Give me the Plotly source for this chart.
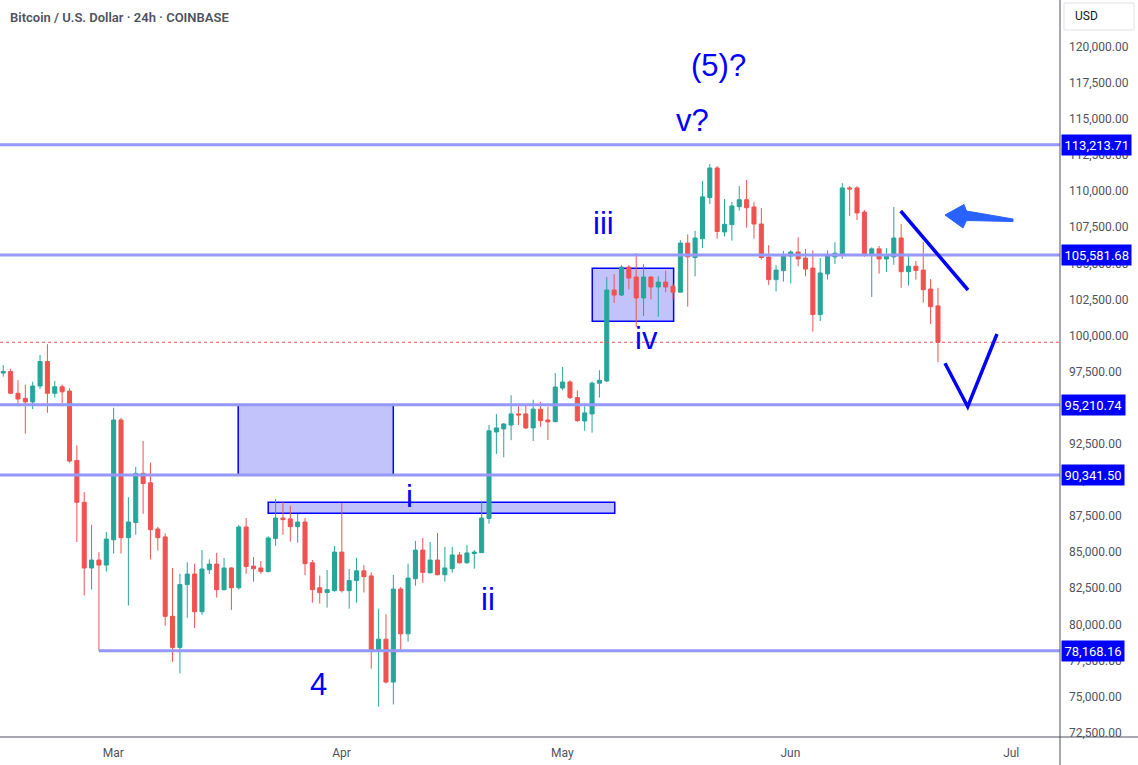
import plotly.graph_objects as go
import pandas as pd

# ---------------- data (BTC/USD daily, Coinbase) ----------------
start_date = "2025-02-15"
end_date = "2025-06-22"
opens = [97400, 97500, 96000, 95650, 95400, 96500, 98200, 96000, 96450, 96150, 91350, 88450, 83900, 84450,
         84100, 85850, 94150, 86000, 87050, 90450, 89800, 86600, 86050, 80550, 78400, 82750, 83480, 80870,
         83780, 84170, 82400, 83900, 82530, 86740, 84030, 83900, 83650, 85950, 87360, 87300, 86760, 87080,
         84260, 82530, 82200,
         82330, 85000, 82330, 83030, 83700, 83350, 78170, 78970, 76000, 82440, 79340, 83160, 85140, 83570,
         84450, 83430, 83850, 84800, 84260, 84900, 84960, 87330, 93320, 93530, 93800, 94570, 94570, 93600,
         94900, 94150,
         94030, 96360, 96780, 95700, 94080, 94570, 96700, 96850, 103150, 102800, 104740, 104050, 102600,
         104050, 103360, 103700, 103400, 103000, 106400, 105400, 106700, 109550, 111600, 107170, 107680,
         108920, 109400, 108900, 107720, 105440, 103870,
         104490, 105500, 105780, 105360, 104670, 101450, 104260, 105440, 105640, 110220, 110220, 108550,
         105570, 106000, 105300, 105440, 106750, 104420, 104800, 104530, 103220, 102050]
highs = [97950, 97700, 96900, 96600, 96800, 98650, 99400, 96850, 96600, 96350, 92400, 89150, 86900, 85000,
         86400, 95000, 94300, 88800, 90900, 92700, 91200, 86750, 86300, 83900, 83500, 84300, 84200, 85150,
         84500, 84950, 84600, 83950, 86880, 87360, 84660, 84380, 86100, 88680, 88470, 88200, 87640, 87360,
         84450, 83370, 83760,
         85420, 88400, 83830, 84600, 84100, 83600, 81080, 80700, 83430, 82580, 84200, 85770, 85980, 85700,
         86320, 85360, 85360, 85000, 85500, 85140, 88470, 93800, 94570, 93940, 95860, 95200, 95270, 95550,
         95400, 95070,
         97400, 97820, 96900, 96200, 95100, 96800, 97600, 104050, 104250, 104870, 104870, 105700, 104940,
         104100, 104100, 104500, 103600, 106600, 107000, 107250, 110700, 111870, 111730, 109450, 109250,
         110350, 110780, 109250, 108830, 106260, 104870,
         105860, 105900, 106800, 105990, 105900, 105360, 105900, 106460, 110550, 110350, 110350, 108700,
         106100, 106200, 106050, 108900, 107720, 105500, 105160, 106460, 103900, 103300]
lows = [97150, 95950, 95100, 93200, 94900, 96300, 94650, 95700, 95100, 91200, 85700, 82000, 82400, 78168,
        83650, 84900, 84900, 81300, 86200, 87650, 84500, 85100, 79900, 77400, 76600, 80450, 79750, 80650,
        83480, 81850, 82330, 81000, 82400, 83500, 82950, 83500, 83600, 85440, 86200, 85720, 85650, 83400,
        81500, 81430, 81150,
        82260, 82200, 81080, 81500, 82200, 76930, 74300, 75900, 74450, 78240, 78800, 82670, 82880, 83500,
        83400, 82950, 83570, 84200, 84200, 83850, 84950, 86970, 91800, 91570, 92750, 93800, 93530, 92700,
        93670, 92760,
        94000, 96200, 95600, 94030, 93400, 93270, 95700, 96780, 102250, 102740, 103200, 100600, 101350,
        102500, 101300, 103000, 102500, 103000, 102000, 104100, 106050, 109100, 106700, 106850, 106570,
        108640, 107470, 106700, 105250, 103500, 103050,
        103730, 103600, 104800, 104100, 100260, 101000, 103870, 104950, 105300, 108280, 108000, 105450,
        102670, 104280, 104400, 104900, 103300, 103450, 103870, 102270, 100800, 98150]
closes = [97500, 96000, 95600, 95400, 96500, 98200, 96000, 96450, 96100, 91300, 88450, 83900, 84450, 84100,
          85900, 94150, 86000, 87080, 90450, 89750, 86550, 86000, 80550, 78400, 82750, 83480, 80870, 83830,
          84170, 82400, 83900, 82530, 86740, 84000, 83850, 83650, 85980, 87360, 87250, 86760, 87080, 84200,
          82400, 82190, 82400,
          85000, 82330, 83030, 83700, 83300, 78170, 78970, 76000, 82440, 79340, 83200, 85140, 83600, 84450,
          83430, 83900, 84800, 84260, 84940, 85000, 87360, 93400, 93600, 93870, 94570, 94500, 93600, 94900,
          94100, 94020,
          96430, 96780, 95700, 94100, 94640, 96700, 96900, 103150, 102800, 104740, 103980, 102600, 104050,
          103360, 103700, 103360, 103000, 106400, 105450, 106750, 109600, 111600, 107200, 107700, 108970,
          109400, 108850, 107720, 105400, 103870, 104530,
          105570, 105780, 105300, 104600, 101450, 104330, 105500, 105700, 110220, 110150, 108490, 105570,
          106000, 105300, 105500, 106750, 104420, 104800, 104500, 103170, 102000, 99530]

levels = [113213.71, 105581.68, 95210.74, 90341.50, 78168.16]
level_starts = ["2025-02-01", "2025-02-01", "2025-02-01", "2025-02-01", "2025-02-28"]

zones = [  # (x0, x1, y0, y1)
    ("2025-03-18 22:00", "2025-04-08 23:50", 90341.50, 95210.74),
    ("2025-03-23 00:00", "2025-05-09 02:00", 87690, 88450),
    ("2025-05-06 00:40", "2025-05-17 02:00", 100983, 104654),
]
wave_labels = ["(5)?", "v?", "iii", "iv", "i", "ii", "4"]
month_ticks = ["2025-03-01", "2025-04-01", "2025-05-01", "2025-06-01", "2025-07-01"]
month_text = ["Mar", "Apr", "May", "Jun", "Jul"]

dates = pd.date_range(start_date, end_date, freq="D")

# ---------------- layout geometry ----------------
W, H = 1138, 765
MR, MB = 78, 28
PW, PH = W - MR, H - MB


def px(x):
    return x / PW


def py(y):
    return 1 - y / PH


mar1 = pd.Timestamp("2025-03-01")
x_range = [mar1 - pd.Timedelta(days=14.443), mar1 + pd.Timedelta(days=129.58)]
y_range = [72195, 123234]

GREEN, RED = "#26a69a", "#ef5350"
LEVEL_C = "#9598f8"
BLUE = "#0000ff"

fig = go.Figure()
fig.add_trace(go.Candlestick(
    x=dates, open=opens, high=highs, low=lows, close=closes,
    increasing=dict(line=dict(color=GREEN, width=1), fillcolor=GREEN),
    decreasing=dict(line=dict(color=RED, width=1), fillcolor=RED),
    showlegend=False, hoverinfo="skip",
))

shapes = []
# zones
for x0, x1, y0, y1 in zones:
    shapes.append(dict(type="rect", xref="x", yref="y", x0=x0, x1=x1, y0=y0, y1=y1,
                       fillcolor="#c3c3fb", line=dict(color=BLUE, width=1.5), layer="below"))
# horizontal levels
for lv, st in zip(levels, level_starts):
    shapes.append(dict(type="line", xref="x", yref="y", x0=st, x1=x_range[1], y0=lv, y1=lv,
                       line=dict(color=LEVEL_C, width=3), layer="above"))
# last price dotted line
shapes.append(dict(type="line", xref="paper", yref="y", x0=0, x1=1, y0=closes[-1], y1=closes[-1],
                   line=dict(color=RED, width=1, dash="dot")))
# trend line and V
shapes.append(dict(type="line", xref="paper", yref="paper", x0=px(900.7), y0=py(211), x1=px(968), y1=py(290),
                   line=dict(color=BLUE, width=3.5)))
shapes.append(dict(type="path", xref="paper", yref="paper",
                   path=f"M {px(945)},{py(363.3)} L {px(967.7)},{py(406.7)} L {px(997)},{py(334)}",
                   line=dict(color=BLUE, width=3.5)))
# arrow
arrow_pts = [(945, 215), (964, 204.5), (966.5, 211), (1013, 219), (1013, 221.5), (966.5, 220.5), (963, 228)]
apath = "M " + " L ".join(f"{px(a)},{py(b)}" for a, b in arrow_pts) + " Z"
shapes.append(dict(type="path", xref="paper", yref="paper", path=apath,
                   fillcolor="#2962ff", line=dict(color="#2962ff", width=1)))
# axis lines
shapes.append(dict(type="line", xref="paper", yref="paper", x0=0, x1=W / PW, y0=0, y1=0,
                   line=dict(color="#50535e", width=1)))
shapes.append(dict(type="line", xref="paper", yref="paper", x0=1, x1=1, y0=-MB / PH, y1=1,
                   line=dict(color="#50535e", width=1)))
# USD box
shapes.append(dict(type="rect", xref="paper", yref="paper", x0=px(1064), x1=px(1134), y0=py(30), y1=py(3),
                   line=dict(color="#e0e3eb", width=1), fillcolor="white"))

annotations = []
annotations.append(dict(text="Bitcoin / U.S. Dollar · 24h · COINBASE", xref="paper", yref="paper",
                        x=px(8), y=py(17), xanchor="left", yanchor="middle", showarrow=False,
                        font=dict(family="Roboto", size=13, color="#50535e", weight=600)))
annotations.append(dict(text="USD", xref="paper", yref="paper", x=px(1073), y=py(16.5), xanchor="left",
                        yanchor="middle", showarrow=False, font=dict(family="Roboto", size=12, color="#131722")))
for lv in levels:
    annotations.append(dict(text=f"{lv:,.2f}", xref="paper", yref="y", x=1, y=lv, xanchor="left",
                            yanchor="middle", xshift=1, showarrow=False, bgcolor=BLUE, borderpad=2.5,
                            font=dict(family="Roboto", size=13, color="white")))
label_pos = [(718, 65), (692, 120), (603.5, 223), (646.7, 338.3), (409.5, 496), (488.3, 599), (318.7, 684)]
for t, (lx, ly) in zip(wave_labels, label_pos):
    annotations.append(dict(text=t, xref="paper", yref="paper", x=px(lx), y=py(ly), xanchor="center",
                            yanchor="middle", showarrow=False,
                            font=dict(family="Liberation Sans", size=31, color=BLUE)))

fig.update_layout(
    width=W, height=H, margin=dict(l=0, r=MR, t=0, b=MB),
    paper_bgcolor="white", plot_bgcolor="white",
    boxgap=0.45, boxgroupgap=0,
    shapes=shapes, annotations=annotations,
    xaxis=dict(type="date", range=x_range, rangeslider=dict(visible=False), showgrid=False, zeroline=False,
               showline=False, tickvals=month_ticks, ticktext=month_text, ticks="",
               ticklabelshift=7, ticklabelstandoff=7,
               tickfont=dict(family="Roboto", size=12, color="#50535e")),
    yaxis=dict(side="right", range=y_range, showgrid=False, zeroline=False, showline=False,
               tickvals=list(range(72500, 122500, 2500)), tickformat=",.2f", ticks="",
               ticklabelstandoff=8, tickfont=dict(family="Roboto", size=12, color="#50535e")),
)

fig.write_html("out.html")
